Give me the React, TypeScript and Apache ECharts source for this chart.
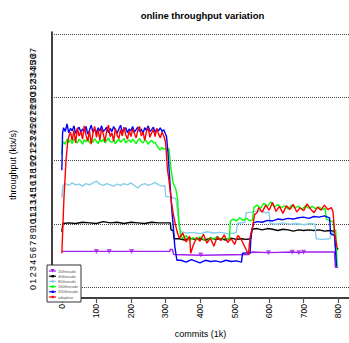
import React, { useEffect, useRef } from "react";
import * as echarts from "echarts";

const FONT = "Liberation Sans";

const xTicks = [0, 100, 200, 300, 400, 500, 600, 700, 800];
const yTicks = [0,1,2,3,4,5,6,7,8,9,10,11,12,13,14,15,16,17,18,19,20,21,22,23,24,25,26,27,28,29,30,31,32,33,34,35,36,37,38];
const gridValues = [0, 10, 20, 30, 40];

const seriesNames = ["20threads", "40threads", "80threads", "160threads", "320threads", "adaptive"];
const seriesColors = ["#A020F0", "#000000", "#87CEEB", "#00FF00", "#0000FF", "#FF0000"];

// 20threads (commits, ktx/s)
const purple: number[][] = [
  [0, 5.7], [100, 5.7], [137, 5.7], [202, 5.7], [312, 5.7], [314, 6.0], [320, 6.0], [324, 5.2],
  [402, 5.1], [540, 5.2], [550, 5.6], [598, 5.5], [667, 5.6], [686, 5.5], [700, 5.6], [789, 5.6],
  [792, 3.2], [800, 3.2],
];
const purpleMarkers: number[][] = [
  [100, 5.7], [137, 5.7], [202, 5.7], [402, 5.15], [598, 5.5], [667, 5.55], [686, 5.5], [700, 5.55],
];

// 40threads
const black: number[][] = [
  [0, 8.8], [3, 10.1], [20, 10.2], [40, 10.1], [60, 10.3], [80, 10.2], [100, 10.1], [120, 10.4],
  [140, 10.2], [160, 10.3], [180, 10.1], [200, 10.3], [220, 10.2], [240, 10.1], [260, 10.3],
  [280, 10.2], [300, 10.2], [314, 10.2], [316, 9.1], [322, 9.0], [325, 7.7], [340, 7.7], [355, 7.5],
  [370, 7.8], [385, 7.6], [400, 7.7], [415, 7.5], [430, 7.8], [445, 7.6], [460, 7.7], [475, 7.5],
  [490, 7.8], [505, 7.6], [520, 7.7], [535, 7.6], [547, 7.7], [551, 9.2], [565, 9.3], [580, 9.1],
  [595, 9.3], [610, 9.2], [625, 9.0], [640, 9.2], [655, 9.1], [670, 8.9], [685, 9.1], [700, 9.0],
  [715, 9.1], [730, 9.0], [745, 9.1], [760, 8.9], [775, 9.0], [788, 8.9], [792, 6.5], [800, 6.0],
];

// 80threads
const skyblue: number[][] = [
  [0, 14.2], [3, 16.0], [10, 16.4], [20, 16.1], [30, 16.5], [40, 16.2], [50, 16.3], [60, 16.0],
  [70, 16.4], [80, 16.2], [90, 16.5], [100, 16.8], [110, 16.3], [120, 16.1], [130, 16.4], [140, 16.2],
  [150, 16.0], [160, 16.3], [170, 16.1], [180, 16.4], [190, 16.2], [200, 16.5], [210, 16.1],
  [220, 15.7], [230, 16.2], [240, 16.4], [250, 16.1], [260, 16.3], [270, 16.6], [280, 16.2],
  [290, 16.0], [298, 16.1], [301, 14.4], [310, 14.3], [320, 14.2], [330, 14.0], [334, 12.5],
  [340, 9.5], [345, 8.8], [360, 8.6], [380, 8.7], [400, 8.5], [420, 8.8], [440, 8.6], [460, 8.7],
  [480, 8.5], [500, 8.6], [505, 8.7], [508, 10.1], [530, 10.3], [534, 11.8], [550, 11.9],
  [570, 12.1], [590, 11.8], [600, 11.9], [603, 10.1], [620, 10.0], [640, 10.2], [660, 10.0],
  [680, 10.1], [700, 9.9], [720, 10.1], [733, 10.0], [736, 7.7], [755, 7.6], [775, 7.7],
  [782, 8.6], [790, 8.5], [796, 3.3],
];

// 160threads: values sampled every 5 commits from 5 to 310, then the rest
const greenTop = [
  23.0, 22.6, 23.4, 22.9, 23.3, 22.7, 23.5, 23.0, 22.8, 23.4, 23.1, 22.6, 23.3, 23.0, 23.6, 22.8,
  23.2, 22.9, 23.5, 23.1, 22.7, 23.3, 23.0, 23.4, 22.8, 23.2, 23.6, 23.0, 22.9, 23.3, 22.7, 23.1,
  23.4, 22.9, 23.2, 23.5, 22.8, 23.1, 23.3, 22.9, 23.4, 23.0, 22.7, 23.2, 23.5, 23.0, 22.8, 23.3,
  23.1, 22.6, 23.0, 23.2, 22.8, 22.9, 22.4, 22.0, 21.7, 22.1, 21.8, 22.0, 21.6, 21.9,
];
const greenRest: number[][] = [
  [316, 18.6], [322, 16.5], [330, 15.5], [335, 14.0], [338, 11.0], [343, 8.5], [350, 7.7],
  [360, 8.2], [370, 7.4], [380, 7.9], [390, 7.5], [400, 8.0], [410, 7.6], [420, 7.3], [430, 7.9],
  [440, 7.6], [450, 8.1], [460, 7.5], [470, 7.8], [480, 7.6], [485, 7.7], [488, 10.4], [495, 10.8],
  [505, 10.5], [515, 11.0], [525, 10.6], [535, 10.9], [545, 10.5], [552, 10.7], [556, 12.6],
  [565, 13.0], [575, 12.5], [585, 13.3], [595, 12.8], [605, 13.5], [615, 12.7], [625, 13.1],
  [635, 12.6], [645, 12.9], [655, 12.4], [665, 13.0], [675, 12.6], [685, 12.8], [695, 12.3],
  [705, 12.9], [715, 12.5], [725, 12.8], [735, 12.4], [745, 12.7], [755, 12.3], [762, 12.5],
  [766, 10.8], [775, 10.6], [785, 10.4], [788, 9.2], [793, 9.0], [797, 3.3],
];

// 320threads: values every 5 commits from 5 to 300
const blueTop = [
  25.2, 24.6, 25.8, 24.4, 25.1, 24.7, 25.5, 24.3, 24.9, 25.3, 24.5, 25.0, 24.6, 25.4, 24.2, 24.8,
  25.6, 24.5, 25.0, 24.4, 25.2, 24.7, 25.5, 24.6, 24.9, 25.3, 24.4, 25.1, 24.6, 25.4, 24.8, 24.3,
  25.0, 25.6, 24.5, 24.9, 25.2, 24.4, 25.0, 24.7, 25.4, 24.5, 24.9, 25.3, 24.6, 25.0, 24.3, 25.2,
  24.8, 25.5, 24.6, 24.9, 25.3, 24.5, 25.0, 24.7, 25.2, 24.6, 24.9, 24.2,
];
const blueRest: number[][] = [
  [303, 23.8], [307, 21.5], [313, 16.5], [318, 12.5], [322, 10.0], [327, 6.5], [333, 4.3],
  [345, 4.3], [360, 4.0], [375, 4.4], [390, 4.1], [400, 3.9], [415, 4.3], [430, 4.1], [445, 4.2],
  [460, 4.0], [475, 4.3], [490, 4.1], [505, 4.2], [520, 4.0], [523, 5.4], [545, 5.5], [548, 8.5],
  [555, 10.2], [565, 10.4], [580, 10.3], [595, 10.6], [610, 10.5], [625, 10.8], [640, 10.7],
  [655, 10.9], [670, 10.8], [685, 11.0], [700, 11.1], [715, 10.9], [730, 11.2], [745, 11.1],
  [760, 11.3], [775, 11.0], [778, 8.5], [790, 8.2], [795, 3.3],
];

// adaptive: ramp, then values every 5 commits from 20 to 300, then the rest
const redStart: number[][] = [[0, 5.4], [6, 14.0], [12, 20.0], [17, 23.0]];
const redTop = [
  23.8, 24.5, 23.2, 24.8, 22.8, 25.2, 23.9, 24.6, 23.4, 25.5, 24.0, 23.1, 24.7, 22.6, 24.3, 25.4,
  23.7, 24.9, 23.3, 25.0, 24.2, 23.0, 24.8, 25.6, 23.8, 24.4, 23.1, 25.1, 24.0, 23.5, 24.9, 23.9,
  25.3, 24.1, 23.4, 24.7, 23.8, 25.0, 24.3, 23.6, 24.8, 25.4, 23.9, 24.5, 23.2, 24.6, 25.2, 23.7,
  24.4, 24.9, 23.8, 25.1, 24.2, 23.6, 24.5, 23.9, 23.0,
];
const redRest: number[][] = [
  [303, 21.0], [306, 18.5], [310, 17.0], [314, 15.0], [318, 13.2], [322, 11.8], [327, 10.4],
  [332, 9.2], [336, 8.4], [340, 7.8], [350, 8.6], [360, 7.2], [370, 8.1], [373, 5.4], [380, 6.6],
  [390, 7.9], [400, 7.3], [410, 8.4], [420, 7.0], [430, 7.8], [440, 6.5], [450, 8.0], [460, 7.4],
  [470, 8.3], [480, 7.1], [490, 7.7], [500, 6.8], [510, 8.2], [520, 7.5], [530, 6.4], [540, 5.2],
  [545, 7.9], [552, 9.5], [558, 11.5], [565, 11.8], [570, 12.6], [580, 11.9], [590, 13.0],
  [600, 12.2], [610, 13.4], [620, 12.0], [630, 12.8], [640, 11.7], [650, 12.9], [660, 12.3],
  [670, 13.1], [680, 11.9], [690, 12.6], [700, 12.1], [710, 13.2], [720, 12.4], [730, 11.8],
  [740, 12.7], [750, 12.2], [760, 13.0], [770, 12.3], [780, 12.6], [785, 12.0], [790, 8.5],
  [797, 6.3],
];

const greenStart: number[][] = [[0, 21.0], [2, 22.5]];
const blueStart: number[][] = [[0, 18.5], [2, 24.3]];

function sampled(start: number, step: number, vals: number[]): number[][] {
  return vals.map((v, i) => [start + step * i, v]);
}

const green = [...greenStart, ...sampled(5, 5, greenTop), ...greenRest];
const blue = [...blueStart, ...sampled(5, 5, blueTop), ...blueRest];
const red = [...redStart, ...sampled(20, 5, redTop), ...redRest];

const allData = [purple, black, skyblue, green, blue, red];

export default function App() {
  const ref = useRef<HTMLDivElement>(null);
  useEffect(() => {
    if (!ref.current) return;
    const chart = echarts.init(ref.current, null, { renderer: "svg" });

    const lineSeries: any[] = allData.map((d, i) => ({
      name: seriesNames[i],
      type: "line",
      data: d,
      showSymbol: false,
      symbol: "none",
      lineStyle: { color: seriesColors[i], width: 1.4 },
      itemStyle: { color: seriesColors[i] },
      z: 2 + i,
      ...(i === 0
        ? {
            markLine: {
              silent: true,
              symbol: "none",
              label: { show: false },
              lineStyle: { type: "dotted", color: "#444", width: 1 },
              data: gridValues.map((v) => ({ yAxis: v })),
              z: 1,
            },
          }
        : {}),
    }));

    const markerSeries = {
      name: "20threads markers",
      type: "scatter",
      data: purpleMarkers,
      symbol: "triangle",
      symbolRotate: 180,
      symbolSize: 5,
      itemStyle: { color: seriesColors[0] },
      z: 3,
    };

    const legendTop = 265;
    const rowYs = [271, 276.2, 281.4, 286.6, 291.8, 297];
    const legendGraphics: any[] = [
      {
        type: "rect",
        shape: { x: 47, y: legendTop, width: 34, height: 37 },
        style: { fill: "#fff", stroke: "#333", lineWidth: 1 },
        z: 100,
      },
    ];
    seriesNames.forEach((n, i) => {
      const y = rowYs[i];
      legendGraphics.push({
        type: "line",
        shape: { x1: 49, y1: y, x2: 56, y2: y },
        style: { stroke: seriesColors[i], lineWidth: 1.2 },
        z: 101,
      });
      if (i === 0) {
        legendGraphics.push({
          type: "polygon",
          shape: { points: [[50.5, y - 2], [54.5, y - 2], [52.5, y + 1.5]] },
          style: { fill: seriesColors[i] },
          z: 102,
        });
      } else {
        legendGraphics.push({
          type: "rect",
          shape: { x: 51.5, y: y - 1.2, width: 2.4, height: 2.4 },
          style: { fill: seriesColors[i] },
          z: 102,
        });
      }
      legendGraphics.push({
        type: "text",
        x: 58,
        y: y,
        style: {
          text: n,
          fill: "#555",
          fontSize: 4,
          fontFamily: FONT,
          verticalAlign: "middle",
          align: "left",
        },
        z: 102,
      });
    });

    chart.setOption({
      animation: false,
      backgroundColor: "#fff",
      title: {
        text: "online throughput variation",
        left: 197.5,
        top: 5,
        textAlign: "center",
        textStyle: { fontSize: 9.5, fontWeight: "bold", fontFamily: FONT, color: "#000" },
      },
      grid: { left: 47, top: 32, width: 302, height: 270.3 },
      xAxis: {
        type: "value",
        min: -28.5,
        max: 831.3,
        name: "commits (1k)",
        nameLocation: "middle",
        nameGap: 31,
        nameTextStyle: { fontSize: 9, fontFamily: FONT, color: "#000" },
        axisLine: { onZero: false, lineStyle: { color: "#000", width: 1.5 } },
        axisTick: { show: true, customValues: xTicks, length: 5, lineStyle: { color: "#555", width: 1.2 } },
        axisLabel: {
          customValues: xTicks,
          rotate: 90,
          margin: 6,
          fontSize: 8.5,
          fontFamily: FONT,
          color: "#000",
        },
        splitLine: { show: false },
      },
      yAxis: {
        type: "value",
        min: -1.65,
        max: 40.3,
        name: "throughput (ktx/s)",
        nameLocation: "middle",
        nameRotate: 90,
        nameGap: 35,
        nameTextStyle: { fontSize: 9, fontFamily: FONT, color: "#000" },
        axisLine: { onZero: false, lineStyle: { color: "#000", width: 1.5 } },
        axisTick: { show: false },
        axisLabel: {
          customValues: yTicks,
          rotate: 90,
          margin: 15,
          fontSize: 9,
          hideOverlap: false,
          fontFamily: FONT,
          color: "#000",
        },
        splitLine: { show: false },
      },
      graphic: legendGraphics,
      series: [...lineSeries, markerSeries],
    });
    return () => chart.dispose();
  }, []);

  return <div ref={ref} style={{ width: 349, height: 343, position: "absolute", left: 0, top: 0 }} />;
}
